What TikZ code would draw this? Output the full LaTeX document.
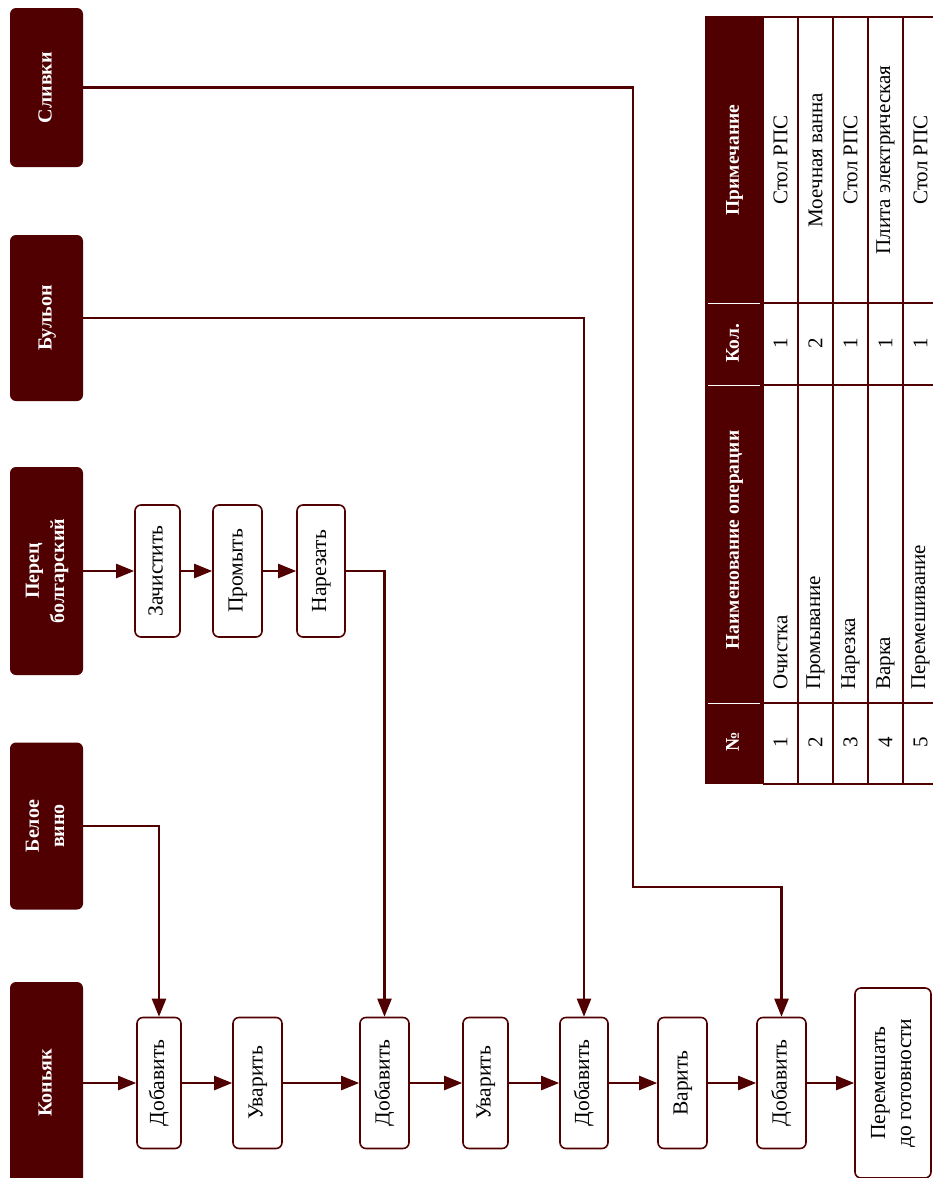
\documentclass[tikz,border=0pt]{standalone}
\usepackage{fontspec}
\setmainfont{Liberation Serif}
\usepackage{graphicx}
\usetikzlibrary{arrows.meta}
\definecolor{mar}{RGB}{80,0,0}
\newcommand{\rt}[1]{\rotatebox{90}{\begin{tabular}{@{}c@{}}#1\end{tabular}}}
\begin{document}
\begin{tikzpicture}[x=1pt,y=-1pt,
  src/.style={fill=mar, draw=none, rounded corners=6pt, text=white, font=\fontsize{20}{25}\selectfont\bfseries, inner sep=0pt, minimum width=73pt},
  proc/.style={draw=mar, line width=1.6pt, rounded corners=6pt, fill=white, font=\fontsize{21.5}{26}\selectfont, inner sep=0pt},
  conn/.style={draw=mar, line width=2.3pt, -{Triangle[length=18pt,width=14pt]}},
  grid/.style={draw=mar, line width=1.8pt},
  th/.style={text=white, font=\fontsize{19.5}{24}\selectfont\bfseries, inner sep=0pt},
  td/.style={text=black, font=\fontsize{21}{24}\selectfont, inner sep=0pt}]
\useasboundingbox (0,0) rectangle (933,1178);

% source nodes
\node[src, minimum height=159pt] (slivki) at (46.5,87.5) {\rt{Сливки}};
\node[src, minimum height=166pt] (bulyon) at (46.5,318) {\rt{Бульон}};
\node[src, minimum height=208pt] (perec) at (46.5,571) {\rt{Перец\\болгарский}};
\node[src, minimum height=167pt] (vino) at (46.5,826) {\rt{Белое\\вино}};
\node[src, minimum height=202pt] (konyak) at (46.5,1083) {\rt{Коньяк}};

% pepper row
\node[proc, minimum width=45pt, minimum height=132pt] (zach) at (157.5,571) {\rt{Зачистить}};
\node[proc, minimum width=49pt, minimum height=132pt] (prom) at (237.5,571) {\rt{Промыть}};
\node[proc, minimum width=48pt, minimum height=132pt] (narez) at (321,571) {\rt{Нарезать}};

% main row
\node[proc, minimum width=44pt, minimum height=131pt] (d1) at (159,1083) {\rt{Добавить}};
\node[proc, minimum width=49pt, minimum height=131pt] (u1) at (257.5,1083) {\rt{Уварить}};
\node[proc, minimum width=49pt, minimum height=131pt] (d2) at (384.5,1083) {\rt{Добавить}};
\node[proc, minimum width=45pt, minimum height=131pt] (u2) at (485.5,1083) {\rt{Уварить}};
\node[proc, minimum width=48pt, minimum height=131pt] (d3) at (584,1083) {\rt{Добавить}};
\node[proc, minimum width=49pt, minimum height=131pt] (var) at (682.5,1083) {\rt{Варить}};
\node[proc, minimum width=49pt, minimum height=131pt] (d4) at (781.5,1083) {\rt{Добавить}};
\node[proc, minimum width=76pt, minimum height=190pt] (perem) at (893,1083) {\rt{Перемешать\\до готовности}};

% connectors
\draw[conn] (konyak) -- (d1);
\draw[conn] (d1) -- (u1);
\draw[conn] (u1) -- (d2);
\draw[conn] (d2) -- (u2);
\draw[conn] (u2) -- (d3);
\draw[conn] (d3) -- (var);
\draw[conn] (var) -- (d4);
\draw[conn] (d4) -- (perem);
\draw[conn] (perec) -- (zach);
\draw[conn] (zach) -- (prom);
\draw[conn] (prom) -- (narez);
\draw[conn] (vino.east) -| (d1.north);
\draw[conn] (narez.east) -| (d2.north);
\draw[conn] (bulyon.east) -| (d3.north);
\coordinate (s1) at (633,887);
\draw[conn] (slivki.east) -| (s1) -| (d4.north);

% table
\fill[mar] (705,17) rectangle (763,784);
\foreach \yy in {303,385,703} \draw[white, line width=0.8pt] (708,\yy) -- (760,\yy);
\foreach \xx in {763,798,833,868,903} \draw[grid] (\xx,17) -- (\xx,784);
\foreach \yy in {17,303,385,703,784} \draw[grid] (763,\yy) -- (940,\yy);
\draw[mar, line width=2.2pt] (705,17) -- (940,17);

\node[th] (h1) at (734,160) {\rt{Примечание}};
\node[th] (h2) at (734,343) {\rt{Кол.}};
\node[th] (h3) at (734,540) {\rt{Наименование операции}};
\node[th] (h4) at (734,742) {\rt{№}};

\foreach \xx/\n/\name/\k/\note in {780.5/1/Очистка/1/Стол РПС, 815.5/2/Промывание/2/Моечная ванна, 850.5/3/Нарезка/1/Стол РПС, 885.5/4/Варка/1/Плита электрическая, 920.5/5/Перемешивание/1/Стол РПС}{
  \node[td] at (\xx,742) {\rotatebox{90}{\n}};
  \node[td, anchor=south] at (\xx,690) {\rotatebox{90}{\name}};
  \node[td] at (\xx,343) {\rotatebox{90}{\k}};
  \node[td] at (\xx,160) {\rotatebox{90}{\note}};
}
\end{tikzpicture}
\end{document}
